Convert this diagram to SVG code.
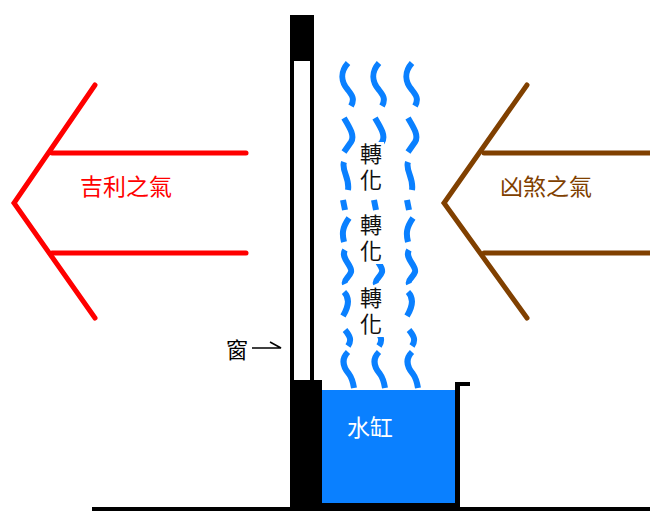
<svg xmlns="http://www.w3.org/2000/svg" width="650" height="511" viewBox="0 0 650 511">
<style>
.red{stroke:#FF0000;stroke-width:5;fill:none;stroke-linecap:round;stroke-linejoin:miter}
.brown{stroke:#804000;stroke-width:5;fill:none;stroke-linecap:round;stroke-linejoin:miter}
.steam{stroke:#0A80FF;stroke-width:6;fill:none;stroke-linecap:butt;stroke-linejoin:round}
.cjk{font-family:"Noto Sans CJK TC","Noto Sans CJK SC",sans-serif}
.vt{writing-mode:vertical-rl;letter-spacing:4px}
</style>
<defs>
<path id="sq" class="steam" d="M1,63 C-7,72 -6,82 1,90 C5,95 8,99 4,106 M-3,118 C3,128 8,136 4,142 L-3,152 M-3,162 C-6,170 3,178 1,190 M-4,200 L-2,210 M2,218 C-5,228 -5,234 -3,242 M-2,250 C-7,258 6,266 4,272 C2,278 -4,280 -2,284 M-3,292 C3,298 2,306 -4,316 M-2,330 C3,336 5,340 1,346 M1,352 C-7,360 -3,368 2,374 C5,378 6,382 7,388"/>
</defs>
<g id="window">
<rect x="290" y="15" width="24" height="366" fill="#000"/>
<rect x="294" y="61" width="16" height="319" fill="#fff"/>
<rect x="290" y="380" width="32" height="131" fill="#000"/>
</g>
<g id="tank">
<rect x="322" y="390" width="133" height="114" fill="#0A80FF"/>
<rect x="322" y="503" width="138" height="8" fill="#000"/>
<rect x="455" y="382" width="5" height="129" fill="#000"/>
<rect x="455" y="382" width="15" height="4" fill="#000"/>
<text x="370" y="436" text-anchor="middle" font-size="23" fill="#fff" class="cjk">水缸</text>
</g>
<g id="ground"><rect x="92" y="507" width="558" height="4" fill="#000"/></g>
<g id="steam">
<use href="#sq" transform="translate(347,0)"/>
<use href="#sq" transform="translate(378,0)"/>
<use href="#sq" transform="translate(411,0)"/>
</g>
<g id="transform-labels" class="cjk" font-size="22" fill="#111">
<rect x="358" y="142" width="26" height="50" fill="#fff"/>
<rect x="358" y="214" width="26" height="50" fill="#fff"/>
<rect x="358" y="287" width="26" height="50" fill="#fff"/>
<text class="vt" x="371" y="143">轉化</text>
<text class="vt" x="371" y="214">轉化</text>
<text class="vt" x="371" y="287">轉化</text>
</g>
<g id="good-qi">
<polyline class="red" points="95,85 14,203 95,318"/>
<line class="red" x1="52" y1="153" x2="246" y2="153"/>
<line class="red" x1="52" y1="253" x2="246" y2="253"/>
<text x="80" y="195" font-size="23" fill="#FF0000" class="cjk">吉利之氣</text>
</g>
<g id="bad-qi">
<polyline class="brown" points="527,85 444,203 527,318"/>
<line class="brown" x1="484" y1="153" x2="650" y2="153"/>
<line class="brown" x1="484" y1="253" x2="650" y2="253"/>
<text x="500" y="195" font-size="23" fill="#804000" class="cjk">凶煞之氣</text>
</g>
<g id="window-label">
<text x="226" y="358" font-size="22" fill="#000" class="cjk">窗</text>
<polyline points="252,348 281,348 270,342" fill="none" stroke="#000" stroke-width="1.5"/>
</g>
</svg>
